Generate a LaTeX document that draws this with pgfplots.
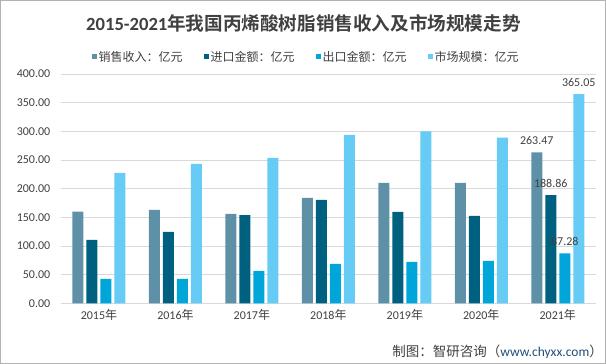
\documentclass[border=0pt]{standalone}
\usepackage{fontspec}
\setmainfont{Carlito}
\newfontfamily\cjk{Noto Sans CJK SC}[BoldFont={Noto Sans CJK SC Bold}]
\usepackage{pgfplots}
\pgfplotsset{compat=1.18}
\definecolor{cA}{RGB}{94,145,168}
\definecolor{cB}{RGB}{0,96,128}
\definecolor{cC}{RGB}{0,166,218}
\definecolor{cD}{RGB}{102,204,245}
\definecolor{gridgray}{RGB}{217,217,217}
\definecolor{txt}{RGB}{64,64,64}
\definecolor{urlblue}{RGB}{31,78,121}
\begin{document}
\begin{tikzpicture}[x=1pt,y=1pt]
\useasboundingbox (0,0) rectangle (606,364);
\draw[gray!60,line width=1pt] (0.5,0.5) rectangle (605.5,363.5);
\node[font=\bfseries\fontsize{18.6}{22}\selectfont, text=txt] at (303.5,341) {2015-2021{\cjk 年我国丙烯酸树脂销售收入及市场规模走势}};
\node[anchor=east, font=\fontsize{13.5}{15}\selectfont, text=txt, inner sep=0pt] at (603,12) {{\cjk 制图：智研咨询（}\textcolor{urlblue}{www.chyxx.com}{\cjk ）}};
\begin{axis}[
  at={(60.75pt,60.7pt)}, anchor=south west, scale only axis,
  width=535.25pt, height=229.3pt,
  xmin=-0.5, xmax=6.5, ymin=0, ymax=400,
  ybar, bar width=11pt,
  ytick={0,50,...,400},
  xtick={0,...,6},
  xticklabels={2015{\cjk 年},2016{\cjk 年},2017{\cjk 年},2018{\cjk 年},2019{\cjk 年},2020{\cjk 年},2021{\cjk 年}},
  ymajorgrids, grid style={draw=gridgray, line width=0.8pt},
  axis line style={draw=none},
  major tick length=0pt,
  tick label style={font=\fontsize{12}{14}\selectfont, text=txt},
  yticklabel style={xshift=-7pt, /pgf/number format/.cd, fixed, fixed zerofill, precision=2, assume math mode=true},
  xticklabel style={yshift=-3pt},
  legend columns=4,
  legend style={draw=none, fill=none, font=\cjk\fontsize{12}{14}\selectfont, text=txt,
    at={(axis description cs:0.4586,1.075)}, anchor=center,
    /tikz/every even column/.append style={column sep=19pt}},
  legend image code/.code={\path[#1,draw=none] (0pt,-2.5pt) rectangle (5pt,2.5pt);},
  nodes near coords style={font=\fontsize{12}{14}\selectfont, text=txt, yshift=4pt, /pgf/number format/.cd, fixed, fixed zerofill, precision=2, assume math mode=true},
]
\addplot[fill=cA, draw=none, bar shift=-21pt] coordinates {(0,160) (1,163) (2,156) (3,184) (4,210) (5,210) (6,263.47)};
\addlegendentry{销售收入：亿元}
\addplot[fill=cB, draw=none, bar shift=-7pt] coordinates {(0,110.6) (1,124.5) (2,153.7) (3,180.4) (4,159.5) (5,152.5) (6,188.86)};
\addlegendentry{进口金额：亿元}
\addplot[fill=cC, draw=none, bar shift=7pt] coordinates {(0,42.4) (1,42.4) (2,56.4) (3,68.6) (4,72.1) (5,73.9) (6,87.28)};
\addlegendentry{出口金额：亿元}
\addplot[fill=cD, draw=none, bar shift=21pt] coordinates {(0,227.6) (1,243.3) (2,253.8) (3,294) (4,300) (5,289) (6,365.05)};
\addlegendentry{市场规模：亿元}
\addplot[draw=none, fill=none, bar shift=-21pt, nodes near coords, forget plot] coordinates {(6,263.47)};
\addplot[draw=none, fill=none, bar shift=-7pt, nodes near coords, forget plot] coordinates {(6,188.86)};
\addplot[draw=none, fill=none, bar shift=7pt, nodes near coords, forget plot] coordinates {(6,87.28)};
\addplot[draw=none, fill=none, bar shift=21pt, nodes near coords, forget plot] coordinates {(6,365.05)};
\end{axis}
\end{tikzpicture}
\end{document}
